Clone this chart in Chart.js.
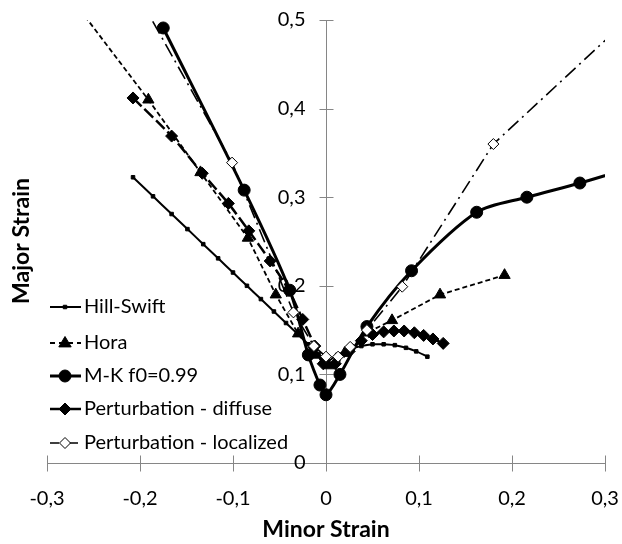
<!DOCTYPE html>
<html>
<head>
<meta charset="utf-8">
<script src="https://cdn.jsdelivr.net/npm/chart.js"></script>
<style>
  html, body { margin: 0; padding: 0; background: #fff; }
  #wrap { width: 622px; height: 544px; }
</style>
</head>
<body>
<div id="wrap"><canvas id="myChart"></canvas></div>
<script>
// values (minor strain, major strain)
const hillSwiftX = [-0.2075, -0.186, -0.166, -0.149, -0.132, -0.116, -0.1, -0.085, -0.07, -0.056, -0.043, -0.031, -0.019, -0.008, 0, 0.012, 0.025, 0.038, 0.05, 0.062, 0.074, 0.086, 0.097, 0.109];
const hillSwiftY = [0.3225, 0.301, 0.281, 0.264, 0.247, 0.231, 0.215, 0.2, 0.185, 0.171, 0.158, 0.146, 0.134, 0.123, 0.114, 0.122, 0.128, 0.132, 0.134, 0.134, 0.133, 0.13, 0.126, 0.12];

const horaX = [-0.28, -0.191, -0.135, -0.084, -0.054, -0.03, -0.012, 0.003, 0.02, 0.044, 0.071, 0.1226, 0.192];
const horaY = [0.533, 0.41, 0.328, 0.254, 0.19, 0.146, 0.122, 0.11, 0.124, 0.147, 0.161, 0.19, 0.212];

const mkX = [-0.175, -0.088, -0.039, -0.019, -0.0065, 0, 0.015, 0.044, 0.092, 0.162, 0.216, 0.273, 0.33];
const mkY = [0.491, 0.308, 0.195, 0.122, 0.088, 0.077, 0.1, 0.154, 0.217, 0.283, 0.3, 0.316, 0.334];

const diffuseX = [-0.2075, -0.166, -0.133, -0.105, -0.083, -0.06, -0.04, -0.025, -0.012, -0.003, 0.01, 0.025, 0.038, 0.05, 0.062, 0.073, 0.084, 0.095, 0.105, 0.115, 0.126];
const diffuseY = [0.412, 0.369, 0.327, 0.293, 0.262, 0.228, 0.195, 0.162, 0.132, 0.112, 0.112, 0.126, 0.138, 0.145, 0.148, 0.149, 0.149, 0.147, 0.144, 0.14, 0.135];

const localizedX = [-0.2, -0.101, -0.035, -0.013, 0, 0.013, 0.026, 0.044, 0.082, 0.18, 0.33];
const localizedY = [0.524, 0.339, 0.17, 0.132, 0.12, 0.12, 0.131, 0.15, 0.199, 0.36, 0.506];

const seriesNames = ["Hill-Swift", "Hora", "M-K f0=0.99", "Perturbation - diffuse", "Perturbation - localized"];
const xTicks = [-0.3, -0.2, -0.1, 0, 0.1, 0.2, 0.3];
const yTicks = [0, 0.1, 0.2, 0.3, 0.4, 0.5];

const FONT = "Lato, 'Open Sans', sans-serif";
const AXIS = "#868686";

const pts = (xs, ys) => xs.map((x, i) => ({ x: x, y: ys[i] }));
const fmt = (v) => {
    const r = Math.round(v * 10) / 10;
    return r === 0 ? "0" : r.toFixed(1).replace(".", ",");
};

const styles = [
    { dash: [], width: 2, marker: "rect", r: 2.5, fill: "#000", tension: 0.3 },
    { dash: [5, 3], width: 1.8, marker: "triangle", r: 6.5, fill: "#000", tension: 0 },
    { dash: [], width: 3, marker: "circle", r: 6, fill: "#000", tension: 0.3 },
    { dash: [12, 4], width: 2.5, marker: "rectRot", r: 6, fill: "#000", tension: 0.2 },
    { dash: [14, 5, 2, 5], width: 1.6, marker: "rectRot", r: 5.5, fill: "#fff", tension: 0 },
];

const dataSets = [
    pts(hillSwiftX, hillSwiftY),
    pts(horaX, horaY),
    pts(mkX, mkY),
    pts(diffuseX, diffuseY),
    pts(localizedX, localizedY),
].map((d, i) => ({
    label: seriesNames[i],
    data: d,
    showLine: true,
    borderColor: "#000",
    backgroundColor: styles[i].fill,
    borderWidth: styles[i].width,
    borderDash: styles[i].dash,
    tension: styles[i].tension,
    pointStyle: styles[i].marker,
    pointRadius: styles[i].r,
    pointBorderColor: "#000",
    pointBackgroundColor: styles[i].fill,
    pointBorderWidth: 1,
    order: 4 - i,
}));

// draws a marker shape at (x, y)
const marker = function (ctx, s, x, y) {
    ctx.save();
    ctx.setLineDash([]);
    ctx.fillStyle = s.fill;
    ctx.strokeStyle = "#000";
    ctx.lineWidth = 1;
    ctx.beginPath();
    const r = s.r;
    if (s.marker === "circle") {
        ctx.arc(x, y, r, 0, Math.PI * 2);
    } else if (s.marker === "triangle") {
        ctx.moveTo(x, y - r);
        ctx.lineTo(x + r * 0.95, y + r * 0.6);
        ctx.lineTo(x - r * 0.95, y + r * 0.6);
        ctx.closePath();
    } else if (s.marker === "rectRot") {
        ctx.moveTo(x, y - r);
        ctx.lineTo(x + r, y);
        ctx.lineTo(x, y + r);
        ctx.lineTo(x - r, y);
        ctx.closePath();
    } else {
        ctx.rect(x - r * 0.7, y - r * 0.7, r * 1.4, r * 1.4);
    }
    ctx.fill();
    ctx.stroke();
    ctx.restore();
};

// axes cross at (0, 0) and labels sit away from them, so they are drawn here from the scales
const extras = {
    id: "extras",
    beforeDatasetsDraw(chart) {
        const ctx = chart.ctx;
        const xs = chart.scales.x;
        const ys = chart.scales.y;
        const x0 = Math.round(xs.getPixelForValue(0)) + 0.5;
        const y0 = Math.round(ys.getPixelForValue(0)) + 0.5;
        ctx.save();
        ctx.strokeStyle = AXIS;
        ctx.lineWidth = 1;
        ctx.beginPath();
        ctx.moveTo(x0, ys.top);
        ctx.lineTo(x0, ys.bottom);
        ctx.moveTo(xs.left, y0);
        ctx.lineTo(xs.right, y0);
        xs.ticks.forEach((t) => {
            const px = Math.round(xs.getPixelForValue(t.value)) + 0.5;
            ctx.moveTo(px, y0 - 8);
            ctx.lineTo(px, y0 + 8);
        });
        ys.ticks.forEach((t) => {
            const py = Math.round(ys.getPixelForValue(t.value)) + 0.5;
            ctx.moveTo(x0 - 7, py);
            ctx.lineTo(x0 + 7, py);
        });
        ctx.stroke();

        ctx.fillStyle = "#000";
        ctx.font = "20px " + FONT;
        ctx.textBaseline = "middle";
        ctx.textAlign = "right";
        ys.ticks.forEach((t) => {
            ctx.fillText(fmt(t.value), x0 - 21, ys.getPixelForValue(t.value));
        });
        ctx.textAlign = "center";
        xs.ticks.forEach((t) => {
            ctx.fillText(fmt(t.value), xs.getPixelForValue(t.value), y0 + 35);
        });
        ctx.restore();
    },
    afterDraw(chart) {
        const ctx = chart.ctx;
        const xs = chart.scales.x;
        ctx.save();
        ctx.fillStyle = "#000";
        ctx.font = "bold 23px " + FONT;
        ctx.textAlign = "center";
        ctx.textBaseline = "middle";
        ctx.fillText("Minor Strain", (xs.left + xs.right) / 2, 530);
        ctx.translate(22, 241);
        ctx.rotate(-Math.PI / 2);
        ctx.fillText("Major Strain", 0, 0);
        ctx.restore();

        // legend inside the plot
        const rows = [307, 343, 376, 409, 443];
        ctx.save();
        ctx.font = "20px " + FONT;
        ctx.textAlign = "left";
        ctx.textBaseline = "middle";
        seriesNames.forEach((name, i) => {
            const s = styles[i];
            const y = rows[i];
            ctx.strokeStyle = "#000";
            ctx.lineWidth = s.width;
            ctx.setLineDash(i === 1 ? [5, 4] : i === 4 ? [9, 4, 2, 4] : []);
            ctx.beginPath();
            ctx.moveTo(50, y);
            ctx.lineTo(81, y);
            ctx.stroke();
            marker(ctx, s, 65, y);
            ctx.fillStyle = "#000";
            ctx.fillText(name, 84, y);
        });
        ctx.restore();
    },
};

const ctx = document.getElementById("myChart").getContext("2d");
const myChart = new Chart(ctx, {
    type: "scatter",
    data: { datasets: dataSets },
    plugins: [extras],
    options: {
        responsive: true,
        maintainAspectRatio: false,
        animation: false,
        layout: { padding: { left: 47, right: 17, top: 20, bottom: 81 } },
        plugins: {
            legend: { display: false },
            tooltip: { enabled: false },
        },
        scales: {
            x: {
                type: "linear",
                min: -0.3,
                max: 0.3,
                display: false,
                afterBuildTicks: (scale) => { scale.ticks = xTicks.map((v) => ({ value: v })); },
            },
            y: {
                type: "linear",
                min: 0,
                max: 0.5,
                display: false,
                afterBuildTicks: (scale) => { scale.ticks = yTicks.map((v) => ({ value: v })); },
            },
        },
    },
});
</script>
</body>
</html>
